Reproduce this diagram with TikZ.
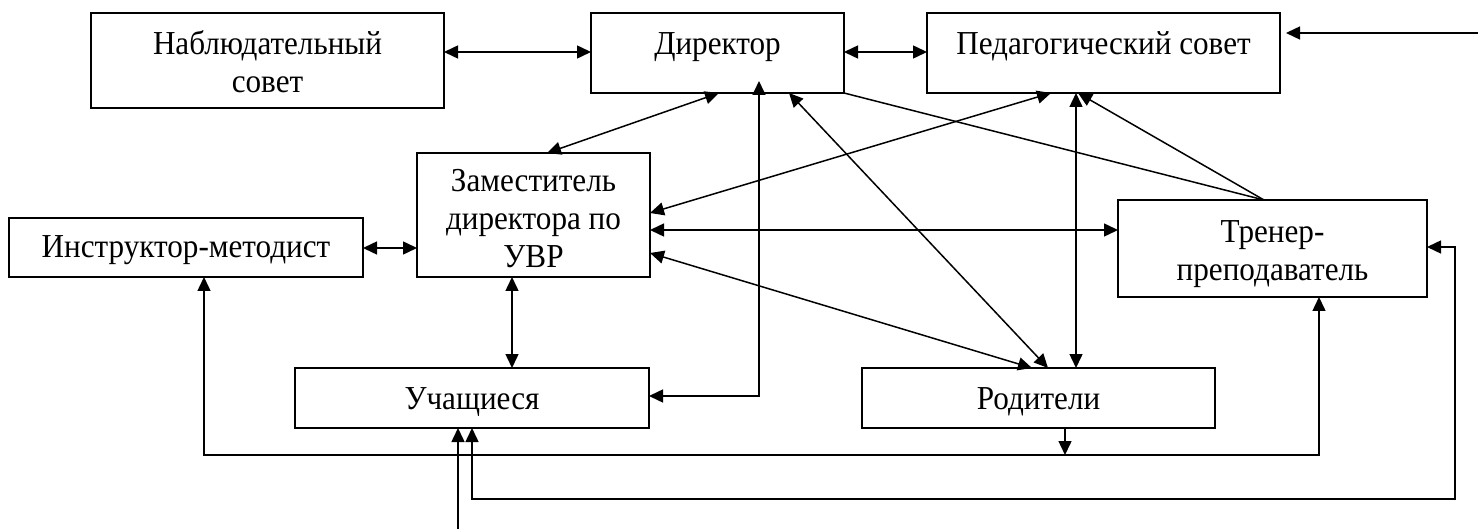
\documentclass[tikz,border=0pt]{standalone}
\usepackage{fontspec}
\setmainfont{Liberation Serif}[FakeStretch=0.93]
\usetikzlibrary{arrows.meta}
\tikzset{
  box/.style={draw, line width=1.3pt, inner sep=0pt, outer sep=0pt},
  lbl/.style={inner sep=0pt, anchor=base, align=center, font=\fontsize{33.5}{38}\selectfont},
  conn/.style={line width=1.5pt},
  tipA/.tip={Triangle[length=14pt,width=13pt]},
  bi/.style={conn, tipA-tipA},
  uni/.style={conn, -tipA}
}
\begin{document}
\begin{tikzpicture}[x=1pt,y=-1pt]
\useasboundingbox (0,0) rectangle (1478,529);
% boxes
\node[box, minimum width=353pt, minimum height=95pt] (nab) at (267.5,60.5) {};
\node[box, minimum width=253pt, minimum height=80pt] (dir) at (717.5,53) {};
\node[box, minimum width=353pt, minimum height=80pt] (ped) at (1103.5,53) {};
\node[box, minimum width=233pt, minimum height=124pt] (zam) at (533.5,215) {};
\node[box, minimum width=354pt, minimum height=59pt] (ins) at (186,247.5) {};
\node[box, minimum width=309pt, minimum height=97pt] (tre) at (1272.5,248.5) {};
\node[box, minimum width=354pt, minimum height=60pt] (uch) at (472,398) {};
\node[box, minimum width=353pt, minimum height=60pt] (rod) at (1038.5,398) {};
% labels (anchor = baseline of the last line)
\node[lbl] (nabT) at (267.5,93) {Наблюдательный\\совет};
\node[lbl] (dirT) at (717.5,55) {Директор};
\node[lbl] (pedT) at (1103.5,55) {Педагогический совет};
\node[lbl] (zamT) at (533.5,268) {Заместитель\\директора по\\УВР};
\node[lbl] (insT) at (186,258) {Инструктор-методист};
\node[lbl] (treT) at (1272.5,281) {Тренер-\\преподаватель};
\node[lbl] (uchT) at (472,409) {Учащиеся};
\node[lbl] (rodT) at (1038.5,409) {Родители};
% coordinates
\coordinate (inR) at (1478,33);
\coordinate (inB) at (458,529);
\coordinate (busL) at (204,455);
\coordinate (busR) at (1319,455);
\coordinate (busM) at (1065,455);
\coordinate (lpA) at (472,499);
\coordinate (lpB) at (1455,499);
\coordinate (lpC) at (1455,247);
\coordinate (dv) at (759,396);
% connectors
\draw[bi] (nab.east |- 0,52) -- (dir.west |- 0,52);
\draw[bi] (dir.east |- 0,52) -- (ped.west |- 0,52);
\draw[uni, shorten >=6pt] (inR) -- (ped.east |- inR);
\draw[bi] (dir.south -| 719,0) -- (zam.north -| 547,0);
\draw[bi] (ped.south -| 1051,0) -- (zam.east |- 0,213);
\draw[bi] (zam.east |- 0,230) -- (tre.west |- 0,230);
\draw[bi] (zam.east |- 0,253) -- (rod.north -| 1032,0);
\draw[bi] (dir.south -| 789,0) -- (rod.north -| 1048,0);
\draw[bi] (ped.south -| 1076,0) -- (rod.north -| 1076,0);
\draw[uni] (tre.north -| 1264,0) -- (ped.south -| 1078,0);
\draw[conn] (dir.south east) -- (tre.north -| 1264,0);
\draw[bi, shorten >=-12pt] (uch.east |- dv) -- (dv) -- (dir.south -| dv);
\draw[bi] (zam.south -| 512,0) -- (uch.north -| 512,0);
\draw[bi] (ins.east |- 0,248) -- (zam.west |- 0,248);
\draw[bi] (ins.south -| busL) -- (busL) -- (busR) -- (tre.south -| busR);
\draw[uni] (rod.south -| busM) -- (busM);
\draw[bi] (uch.south -| lpA) -- (lpA) -- (lpB) -- (lpC) -- (tre.east |- lpC);
\draw[uni] (inB) -- (uch.south -| inB);
\end{tikzpicture}
\end{document}
